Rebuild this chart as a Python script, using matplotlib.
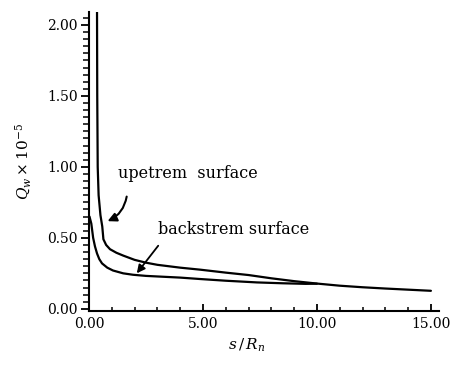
import matplotlib
matplotlib.use("Agg")
import matplotlib.pyplot as plt
from matplotlib.ticker import MultipleLocator, FormatStrFormatter

# heat flux along the wall, upstream face
up_s = [0.35, 0.36, 0.38, 0.42, 0.50, 0.58, 0.63, 0.75, 0.92, 1.2, 1.5, 2.0,
        2.5, 3.0, 4.0, 4.87, 6.0, 7.0, 8.0, 9.0, 10.0, 11.0, 12.0, 13.0,
        14.0, 15.0]
up_q = [2.09, 1.50, 1.00, 0.80, 0.66, 0.58, 0.49, 0.45, 0.42, 0.395, 0.375,
        0.345, 0.325, 0.31, 0.29, 0.276, 0.255, 0.238, 0.215, 0.195, 0.178,
        0.163, 0.152, 0.143, 0.135, 0.127]

# heat flux along the wall, back face
back_s = [0.02, 0.10, 0.18, 0.26, 0.35, 0.45, 0.57, 0.80, 1.05, 1.5, 1.93,
          2.5, 3.25, 4.0, 4.87, 6.0, 7.37, 8.5, 9.5, 10.0]
back_q = [0.65, 0.60, 0.50, 0.44, 0.39, 0.35, 0.32, 0.29, 0.27, 0.25, 0.24,
          0.232, 0.226, 0.22, 0.21, 0.198, 0.186, 0.180, 0.176, 0.177]

x_ticks = [0, 5, 10, 15]
y_ticks = [0.0, 0.5, 1.0, 1.5, 2.0]

plt.rcParams["font.family"] = ["DejaVu Serif"]
plt.rcParams["mathtext.fontset"] = "dejavuserif"

fig = plt.figure(figsize=(4.52, 3.68), dpi=100)
ax = fig.add_axes([0.197, 0.155, 0.774, 0.812])

ax.plot(up_s, up_q, color="black", lw=1.6, solid_capstyle="round")
ax.plot(back_s, back_q, color="black", lw=1.6, solid_capstyle="round")

ax.set_xlim(0, 15.35)
ax.set_ylim(-0.015, 2.09)

for side in ("top", "right"):
    ax.spines[side].set_visible(False)
for side in ("left", "bottom"):
    ax.spines[side].set_linewidth(1.5)

ax.set_xticks(x_ticks)
ax.set_yticks(y_ticks)
ax.xaxis.set_major_formatter(FormatStrFormatter("%.2f"))
ax.yaxis.set_major_formatter(FormatStrFormatter("%.2f"))
ax.xaxis.set_minor_locator(MultipleLocator(1.0))
ax.yaxis.set_minor_locator(MultipleLocator(0.05))
ax.tick_params(axis="x", which="major", direction="in", length=5, width=1.3,
               labelsize=10, pad=4)
ax.tick_params(axis="x", which="minor", direction="in", length=3, width=1.1)
ax.tick_params(axis="y", which="major", direction="out", length=6, width=1.3,
               labelsize=10, pad=2)
ax.tick_params(axis="y", which="minor", direction="out", length=4, width=1.1)

ax.set_ylabel(r"$Q_{w}\times10^{-5}$", fontsize=11, labelpad=10)
ax.set_xlabel(r"$s\,/\,R_{n}$", fontsize=11)
ax.xaxis.set_label_coords(0.45, -0.085)

ax.text(1.27, 0.955, "upetrem  surface", fontsize=11.5, va="center",
        ha="left")
ax.text(3.03, 0.56, "backstrem surface", fontsize=11.5, va="center",
        ha="left")

ax.annotate("", xy=(0.7, 0.61), xytext=(1.67, 0.81),
            arrowprops=dict(arrowstyle="-|>", color="black", lw=1.5,
                            mutation_scale=13,
                            connectionstyle="arc3,rad=-0.3"))
ax.annotate("", xy=(2.02, 0.235), xytext=(3.11, 0.46),
            arrowprops=dict(arrowstyle="-|>", color="black", lw=1.3,
                            mutation_scale=12))

fig.savefig("out.png", dpi=100)
